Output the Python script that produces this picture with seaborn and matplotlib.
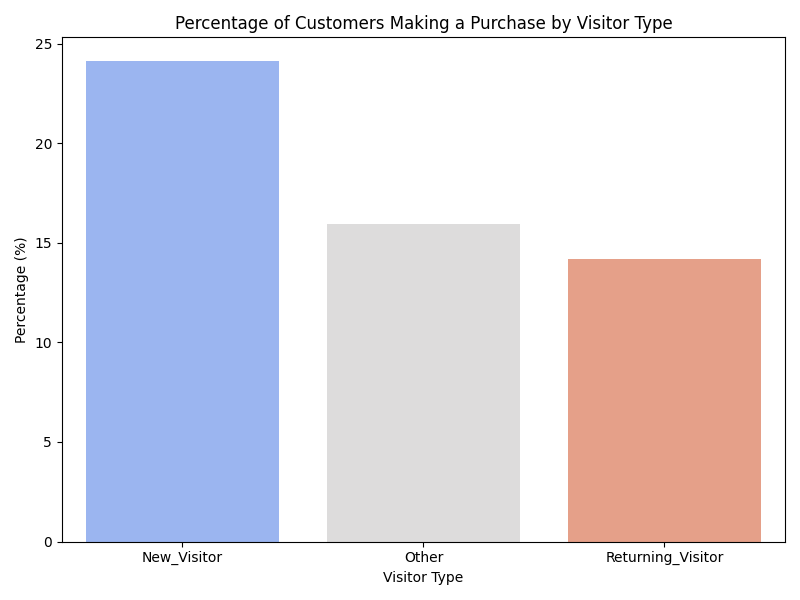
import pandas as pd
import seaborn as sns
from matplotlib import pyplot as plt

# purchase rate per visitor type
visitor_types = ["New_Visitor", "Other", "Returning_Visitor"]
purchase_pct = [24.11, 15.94, 14.19]

df = pd.DataFrame({"VisitorType": visitor_types, "Percentage": purchase_pct})

fig = plt.figure(figsize=(8, 6))
ax = sns.barplot(data=df, x="VisitorType", y="Percentage", hue="VisitorType",
                 palette="coolwarm", legend=False)
ax.set(xlabel="Visitor Type", ylabel="Percentage (%)")
plt.title("Percentage of Customers Making a Purchase by Visitor Type")
plt.tight_layout()
plt.savefig("out.png", dpi=100)
